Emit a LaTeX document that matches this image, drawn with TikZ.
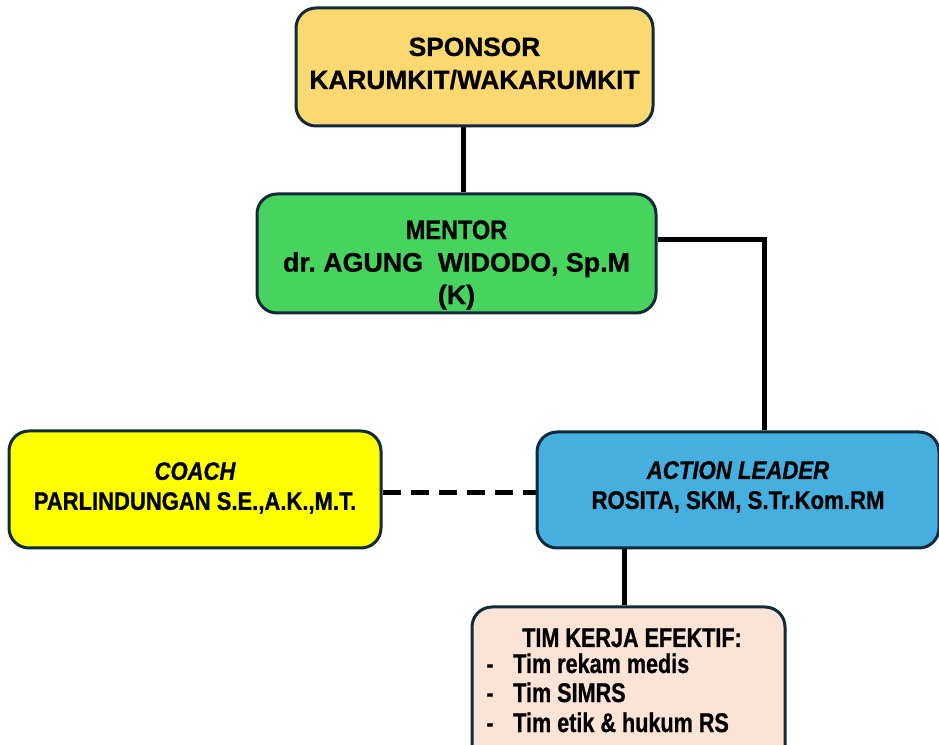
\documentclass[tikz,border=0pt]{standalone}
\usepackage{fontspec}
\setmainfont{Liberation Sans}
\newfontfamily\fn{Liberation Sans}[FakeBold=0.8]
\newfontfamily\fc{Liberation Sans}[FakeStretch=0.87,FakeBold=0.8]
\newfontfamily\fb{Liberation Sans}[FakeStretch=0.8,FakeBold=0.8]
\usetikzlibrary{backgrounds}
\definecolor{edgec}{HTML}{102A3A}
\definecolor{sponsorc}{HTML}{FBD970}
\definecolor{mentorc}{HTML}{47D45E}
\definecolor{coachc}{HTML}{FFFF00}
\definecolor{actionc}{HTML}{45AFE0}
\definecolor{teamc}{HTML}{FBE3D6}
\frenchspacing
\begin{document}
\begin{tikzpicture}[x=1pt,y=1pt,
  box/.style={draw=edgec, line width=3pt, rounded corners=20pt, inner sep=0pt},
  conn/.style={line width=5pt, black},
  txt/.style={inner sep=0pt, align=center, text=black},
  teamf/.style={txt, anchor=base, font=\fb\bfseries\fontsize{27}{29}\selectfont}]
\useasboundingbox (0,0) rectangle (939,744);
\clip (0,0) rectangle (939,744);
% boxes
\node[box, fill=sponsorc, minimum width=357pt, minimum height=118pt] (sponsor) at (474.5,677) {};
\node[box, fill=mentorc, minimum width=399pt, minimum height=119pt] (mentor) at (456.5,490.5) {};
\node[box, fill=coachc, minimum width=372pt, minimum height=117pt] (coach) at (195,254.5) {};
\node[box, fill=actionc, minimum width=402pt, minimum height=116pt] (action) at (738,254) {};
\node[box, fill=teamc, minimum width=313pt, minimum height=158pt] (team) at (628.5,58) {};
% texts
\node[txt, font=\fn\bfseries\fontsize{26.3}{33}\selectfont] (sponsorT) at (474.5,680.5) {SPONSOR\\KARUMKIT/WAKARUMKIT};
\node[txt, font=\fn\bfseries\fontsize{26.8}{32.5}\selectfont] (mentorT) at (456.5,479) {{\fc\fontsize{27}{32.5}\selectfont MENTOR}\\dr. AGUNG\ \ WIDODO, Sp.M\\(K)};
\node[txt, font=\fc\bfseries\fontsize{25.3}{30}\selectfont] (coachT) at (195,256) {\itshape COACH\\PARLINDUNGAN S.E.,A.K.,M.T.};
\node[txt, font=\fc\bfseries\fontsize{25.5}{30}\selectfont] (actionT) at (738,257) {\itshape ACTION LEADER\\ROSITA, SKM, S.Tr.Kom.RM};
\node[teamf] (teamT) at (632,97) {TIM KERJA EFEKTIF:};
\node[teamf] (d1) at (490,71) {-};
\node[teamf] (d2) at (490,42) {-};
\node[teamf] (d3) at (490,12) {-};
\node[teamf, anchor=base west] (t1) at (513,71) {Tim rekam medis};
\node[teamf, anchor=base west] (t2) at (513,42) {Tim SIMRS};
\node[teamf, anchor=base west] (t3) at (513,12) {Tim etik \& hukum RS};
% connectors
\coordinate (xa) at (463,0);
\coordinate (ya) at (0,504);
\coordinate (xb) at (764,0);
\coordinate (yc) at (0,251);
\coordinate (xd) at (624,0);
\begin{pgfonlayer}{background}
\draw[conn] (xa |- sponsor.south) -- (xa |- mentor.north);
\draw[conn] (ya -| mentor.east) -| (xb |- action.north);
\draw[conn, dash pattern=on 18pt off 10pt] (yc -| coach.east) -- (yc -| action.west);
\draw[conn] (xd |- action.south) -- (xd |- team.north);
\end{pgfonlayer}
\end{tikzpicture}
\end{document}
